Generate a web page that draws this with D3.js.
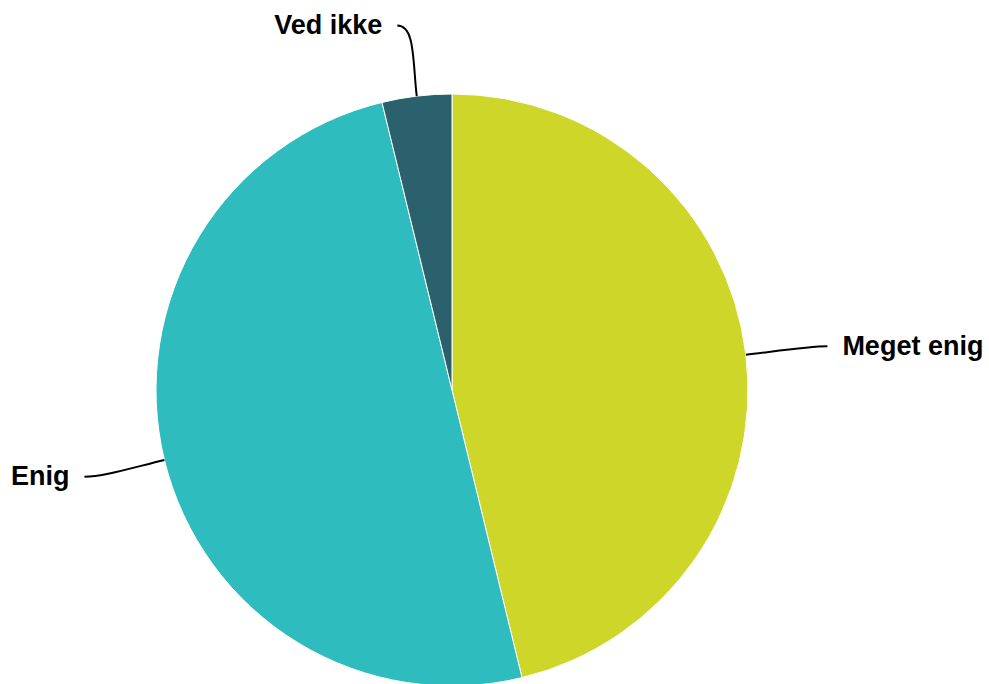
<!DOCTYPE html>
<html><head><meta charset="utf-8">
<script src="https://cdn.jsdelivr.net/npm/d3@7"></script>
<style>html,body{margin:0;padding:0;background:#fff;}svg{display:block;}</style>
</head><body>
<svg id="c" width="989" height="684"></svg>
<script>
const categories = ["Meget enig", "Enig", "Ved ikke"];
const values = [46.2, 50.0, 3.8];
const colors = ["#CDD629", "#2FBCBF", "#2B616D"];

const W = 989, H = 684;
const cx = 452, cy = 390, R = 296, labelDist = 71;
const svg = d3.select("#c");
const g = svg.append("g").attr("transform", `translate(${cx},${cy})`);

const data = categories.map((c, i) => ({name: c, value: values[i], color: colors[i]}));
const pie = d3.pie().value(d => d.value).sort(null);
const arcs = pie(data);
const arc = d3.arc().innerRadius(0).outerRadius(R);

g.selectAll("path.slice").data(arcs).enter().append("path")
  .attr("class", "slice")
  .attr("d", arc)
  .attr("fill", d => d.data.color)
  .attr("stroke", "#fff").attr("stroke-width", 1).attr("stroke-linejoin", "round");

arcs.forEach(a => {
  const m = (a.startAngle + a.endAngle) / 2;
  const sx = Math.sin(m), sy = -Math.cos(m);
  const side = sx >= 0 ? 1 : -1;
  const p0 = [R * sx, R * sy];
  const lx = (R + labelDist) * sx, ly = (R + labelDist) * sy;
  const end = [lx + side * 11, ly];
  const c1 = [p0[0] + sx * 35, p0[1] + sy * 35];
  const c2 = [end[0] - side * 18, end[1]];
  g.append("path")
    .attr("d", `M${p0[0]},${p0[1]} C${c1[0]},${c1[1]} ${c2[0]},${c2[1]} ${end[0]},${end[1]}`)
    .attr("fill", "none").attr("stroke", "#000").attr("stroke-width", 2);
  g.append("text")
    .attr("x", end[0] + side * 15)
    .attr("y", end[1] - 1)
    .attr("dy", "0.35em")
    .attr("text-anchor", side > 0 ? "start" : "end")
    .attr("font-family", "'Liberation Sans', Arial, sans-serif")
    .attr("font-weight", "bold")
    .attr("font-size", 27)
    .attr("fill", "#000")
    .text(a.data.name);
});
</script>
</body></html>
